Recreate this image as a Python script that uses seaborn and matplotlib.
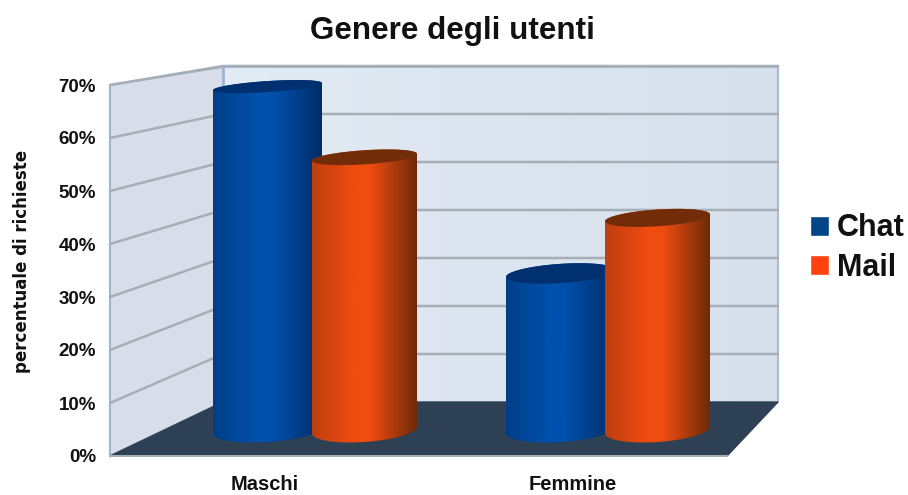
from __future__ import annotations

import matplotlib
matplotlib.use("Agg")
import matplotlib.pyplot as plt
import numpy as np
import pandas as pd
import seaborn as sns
from matplotlib.colors import LinearSegmentedColormap
from matplotlib.patches import Patch, Polygon
from matplotlib.path import Path as MplPath
from matplotlib.transforms import IdentityTransform

categories = ["Maschi", "Femmine"]
services = ["Chat", "Mail"]
chat_values = [68, 31]
mail_values = [54, 42]
y_ticks = [0, 10, 20, 30, 40, 50, 60, 70]
y_tick_labels = ["0%", "10%", "20%", "30%", "40%", "50%", "60%", "70%"]

WIDTH, HEIGHT = 908, 495
FONT = "Liberation Sans"

chat_ramp = ["#003f88", "#0050ad", "#0050ad", "#002c66"]
mail_ramp = ["#bd3f10", "#f04c10", "#f04c10", "#6b2a08"]
cap_colors = {"Chat": "#00306f", "Mail": "#732c08"}
legend_colors = {"Chat": "#004586", "Mail": "#ff420e"}


def px_box(left, top, right, bottom):
    return [left / WIDTH, 1 - bottom / HEIGHT, (right - left) / WIDTH, (bottom - top) / HEIGHT]


def ellipse_points(cx, cy, a, b, start, stop):
    theta = np.linspace(start, stop, 60)
    # display coordinates, y points up; right end sits a bit higher
    return np.column_stack([cx + a * np.cos(theta), cy + b * np.sin(theta) + 0.065 * a * np.cos(theta)])


def draw_walls(ax):
    ax.axis("off")

    floor = [(110, 456), (727, 456), (778, 402), (223, 402)]
    side = [(110, 85), (223, 67), (223, 402), (110, 456)]
    ax.imshow(
        np.linspace(0, 1, 100)[None, :],
        extent=(223, 778, 402, 67),
        cmap=LinearSegmentedColormap.from_list("back", ["#e3ebf4", "#d6e0ec"]),
        aspect="auto",
        zorder=1,
    )
    ax.add_patch(Polygon(side, closed=True, facecolor="#d7deea", edgecolor="#9fb6d2", lw=1.5, zorder=2))
    ax.add_patch(Polygon(floor, closed=True, facecolor="#2e4053", edgecolor="#2e4053", lw=1, zorder=3))
    ax.plot([223, 778, 778], [67, 67, 402], color="#a9bccf", lw=1.5, zorder=2)
    ax.plot([223, 223], [67, 402], color="#9fb6d2", lw=2, zorder=3)

    for tick in y_ticks[1:]:
        front_y = 456 - tick * 371 / 70
        back_y = 402 - tick * 336 / 70
        ax.plot([110, 223, 778], [front_y, back_y, back_y], color="#a6aeb6", lw=1.8, zorder=2.5)
    ax.plot([110, 727], [456, 456], color="#a6aeb6", lw=1.5, zorder=3.5)
    ax.set_xlim(0, WIDTH)
    ax.set_ylim(HEIGHT, 0)


def draw_cylinders(ax):
    frame = pd.DataFrame(
        {
            "genere": categories * 2,
            "servizio": [services[0]] * 2 + [services[1]] * 2,
            "percentuale": chat_values + mail_values,
        }
    )
    sns.barplot(
        data=frame,
        x="genere",
        y="percentuale",
        hue="servizio",
        order=categories,
        hue_order=services,
        width=200 / 293,
        legend=False,
        ax=ax,
    )
    ax.set_xlim((110 - 315) / 293, (778 - 315) / 293)
    ax.set_ylim(0, 70)
    ax.axis("off")
    ax.patch.set_alpha(0)

    order = 10
    for service, container, ramp, pad in zip(
        services, ax.containers, [chat_ramp, mail_ramp], [(-2, 7), (-3, 2)]
    ):
        cmap = LinearSegmentedColormap.from_list(service, list(zip([0, 0.4, 0.55, 1], ramp)))
        for bar in container:
            value = bar.get_height()
            x0, base = ax.transData.transform((bar.get_x(), 0))
            x1, top = ax.transData.transform((bar.get_x() + bar.get_width(), value))
            x0, x1 = x0 + pad[0], x1 + pad[1]
            cx, a = (x0 + x1) / 2, (x1 - x0) / 2
            top_b = (26 - 0.22 * value) / 2
            base_b = 12

            outline = np.vstack(
                [
                    ellipse_points(cx, base, a, base_b, np.pi, 2 * np.pi),
                    ellipse_points(cx, top, a, top_b, 0, np.pi),
                ]
            )
            inv = ax.transData.inverted()
            (d0, d_low), (d1, d_high) = inv.transform([(x0, base - 20), (x1, top + 20)])
            image = ax.imshow(
                np.linspace(0, 1, 200)[None, :],
                extent=(d0, d1, d_low, d_high),
                cmap=cmap,
                aspect="auto",
                zorder=order,
            )
            image.set_clip_box(ax.figure.bbox)
            image.set_clip_path(MplPath(outline), IdentityTransform())
            cap = Polygon(
                ellipse_points(cx, top, a, top_b, 0, 2 * np.pi),
                closed=True,
                facecolor=cap_colors[service],
                edgecolor="none",
                transform=IdentityTransform(),
                zorder=order + 1,
            )
            ax.add_patch(cap)
            bar.set_visible(False)
            order += 2
    ax.set_xlim((110 - 315) / 293, (778 - 315) / 293)
    ax.set_ylim(0, 70)


def main() -> None:
    sns.set_theme(style="white")
    plt.rcParams["font.family"] = [FONT, "DejaVu Sans"]

    fig = plt.figure(figsize=(WIDTH / 100, HEIGHT / 100), dpi=100, facecolor="white")

    wall_ax = fig.add_axes([0, 0, 1, 1], zorder=0)
    draw_walls(wall_ax)

    # front plane only carries the tick labels
    front_ax = fig.add_axes(px_box(110, 85, 727, 456), zorder=1)
    front_ax.patch.set_alpha(0)
    sns.despine(ax=front_ax, left=True, bottom=True)
    front_ax.set_xlim(-0.5, 1.5)
    front_ax.set_ylim(0, 70)
    front_ax.set_xticks([0, 1], categories, fontsize=14.5, fontweight="bold", color="#111111")
    front_ax.set_yticks(y_ticks, y_tick_labels, fontsize=13.5, fontweight="bold", color="#111111")
    front_ax.tick_params(axis="x", length=0, pad=14)
    front_ax.tick_params(axis="y", length=0, pad=10)

    # bars stand half way into the box
    bar_ax = fig.add_axes(px_box(110, 76.5, 778, 430), zorder=2)
    draw_cylinders(bar_ax)

    fig.text(
        22 / WIDTH,
        1 - 261 / HEIGHT,
        "percentuale di richieste",
        rotation=90,
        ha="center",
        va="center",
        fontsize=12,
        fontweight="bold",
        family="DejaVu Sans",
        color="#111111",
    )
    fig.text(452 / WIDTH, 1 - 31 / HEIGHT, "Genere degli utenti", ha="center", va="center",
             fontsize=22.6, fontweight="bold", color="#111111")

    handles = [Patch(facecolor=legend_colors[name], label=name) for name in services]
    fig.legend(
        handles=handles,
        loc="center left",
        bbox_to_anchor=(810 / WIDTH, 1 - 248 / HEIGHT),
        frameon=False,
        borderpad=0,
        borderaxespad=0,
        handlelength=0.62,
        handleheight=0.62,
        handletextpad=0.25,
        labelspacing=0.3,
        labelcolor="#111111",
        prop={"family": FONT, "weight": "bold", "size": 22},
    )

    fig.savefig("out.png", dpi=100)
    plt.close(fig)


if __name__ == "__main__":
    main()
